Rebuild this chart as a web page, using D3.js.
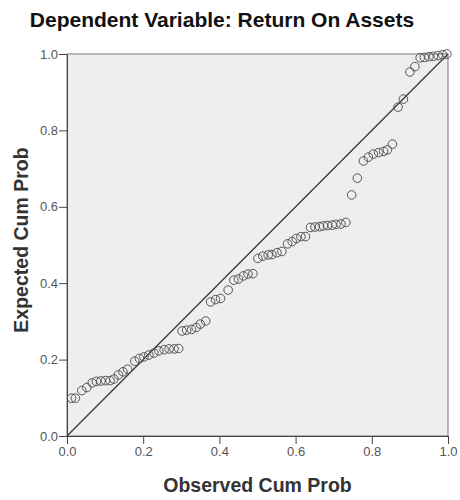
<!DOCTYPE html>
<meta charset="utf-8">
<style>

body {
  margin: 0;
  background: #fff;
  font-family: "Liberation Sans", Arial, sans-serif;
}

.tick text {
  fill: #555;
  font-size: 13px;
}

.tick line, .domain {
  stroke: #444;
}

.axis-title {
  font-weight: bold;
  font-size: 19.5px;
  fill: #333;
}

</style>
<svg width="460" height="500"></svg>
<script src="https://d3js.org/d3.v7.min.js"></script>
<script>

// observed cumulative probability (x) and expected cumulative probability (y)
var observed = [0.012, 0.022, 0.039, 0.052, 0.066, 0.077, 0.089, 0.101, 0.113, 0.123,
  0.135, 0.147, 0.159, 0.178, 0.190, 0.202, 0.215, 0.228, 0.241, 0.255,
  0.268, 0.281, 0.293, 0.302, 0.314, 0.327, 0.339, 0.350, 0.364, 0.377,
  0.390, 0.403, 0.423, 0.438, 0.450, 0.463, 0.475, 0.488, 0.501, 0.514,
  0.528, 0.538, 0.551, 0.564, 0.579, 0.591, 0.602, 0.614, 0.626, 0.639,
  0.651, 0.663, 0.673, 0.684, 0.696, 0.706, 0.719, 0.732, 0.747, 0.762,
  0.778, 0.791, 0.804, 0.818, 0.831, 0.841, 0.854, 0.869, 0.883, 0.900,
  0.913, 0.927, 0.938, 0.950, 0.962, 0.974, 0.986, 0.997];

var expected = [0.099, 0.099, 0.119, 0.127, 0.139, 0.143, 0.144, 0.145, 0.145, 0.149,
  0.160, 0.168, 0.175, 0.196, 0.203, 0.207, 0.212, 0.217, 0.223, 0.226,
  0.228, 0.228, 0.229, 0.275, 0.277, 0.279, 0.284, 0.293, 0.301, 0.351,
  0.357, 0.360, 0.382, 0.408, 0.411, 0.419, 0.424, 0.425, 0.465, 0.471,
  0.474, 0.475, 0.480, 0.483, 0.503, 0.509, 0.517, 0.522, 0.522, 0.546,
  0.547, 0.548, 0.550, 0.551, 0.552, 0.554, 0.555, 0.559, 0.631, 0.675,
  0.720, 0.730, 0.738, 0.742, 0.745, 0.749, 0.764, 0.861, 0.882, 0.953,
  0.967, 0.990, 0.991, 0.993, 0.994, 0.996, 0.998, 1.000];

var tick_values = [0, 0.2, 0.4, 0.6, 0.8, 1.0];

var title_text = "Dependent Variable: Return On Assets";
var x_title = "Observed Cum Prob";
var y_title = "Expected Cum Prob";

var svg = d3.select("svg"),
    plotLeft = 67, plotRight = 448, plotTop = 54, plotBottom = 436;

var x = d3.scaleLinear().domain([0, 1]).range([plotLeft, plotRight]);
var y = d3.scaleLinear().domain([0, 1]).range([plotBottom, plotTop]);

// plot background + frame
svg.append("rect")
    .attr("x", x(0))
    .attr("y", y(1))
    .attr("width", x(1) - x(0))
    .attr("height", y(0) - y(1))
    .style("fill", "#eeeeee")
    .style("stroke", "#777")
    .style("stroke-width", 1);

svg.append("g")
    .attr("transform", "translate(0," + plotBottom + ")")
    .call(d3.axisBottom(x).tickValues(tick_values).tickFormat(d3.format(".1f")).tickSize(8).tickSizeOuter(0))
    .call(function(g) { g.selectAll("text").attr("dy", "0.75em").attr("y", 10); });

svg.append("g")
    .attr("transform", "translate(" + plotLeft + ",0)")
    .call(d3.axisLeft(y).tickValues(tick_values).tickFormat(d3.format(".1f")).tickSize(8).tickSizeOuter(0))
    .call(function(g) { g.selectAll("text").attr("x", -9); });

// reference line
svg.append("line")
    .attr("x1", x(0)).attr("y1", y(0))
    .attr("x2", x(1)).attr("y2", y(1))
    .style("stroke", "#333")
    .style("stroke-width", 1.2);

var pts = observed.map(function(d, i) { return {x: d, y: expected[i]}; });

svg.append("g")
  .selectAll("circle")
  .data(pts)
  .enter().append("circle")
    .attr("cx", function(d) { return x(d.x); })
    .attr("cy", function(d) { return y(d.y); })
    .attr("r", 4.3)
    .style("fill", "none")
    .style("stroke", "#555")
    .style("stroke-width", 1);

svg.append("text")
    .attr("x", 222)
    .attr("y", 27)
    .attr("text-anchor", "middle")
    .style("font-weight", "bold")
    .style("font-size", "21px")
    .style("fill", "#111")
    .text(title_text);

svg.append("text")
    .attr("class", "axis-title")
    .attr("x", (plotLeft + plotRight) / 2)
    .attr("y", 492)
    .attr("text-anchor", "middle")
    .text(x_title);

svg.append("text")
    .attr("class", "axis-title")
    .attr("transform", "translate(28," + 240 + ") rotate(-90)")
    .attr("text-anchor", "middle")
    .text(y_title);

</script>
